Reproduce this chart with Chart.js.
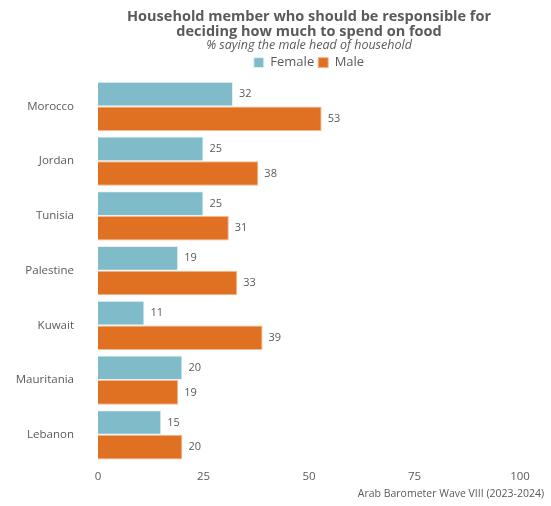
<!DOCTYPE html>
<html>
<head>
<meta charset="utf-8">
<script src="https://cdn.jsdelivr.net/npm/chart.js@4"></script>
<style>
  body { margin: 0; background: #fff; }
  #wrap { width: 551px; height: 506px; }
</style>
</head>
<body>
<div id="wrap"><canvas id="chart"></canvas></div>
<script>
// countries, top to bottom
const countries = ["Morocco", "Jordan", "Tunisia", "Palestine", "Kuwait", "Mauritania", "Lebanon"];
// % saying the male head of household, by respondent gender
const female = [32, 25, 25, 19, 11, 20, 15];
const male = [53, 38, 31, 33, 39, 19, 20];
const xTicks = [0, 25, 50, 75, 100];

const FONT = "'Open Sans', 'Noto Sans', sans-serif";
const GREY = "#5a5a5a";

// value labels to the right of each bar
const barLabels = {
    id: 'barLabels',
    afterDatasetsDraw(chart) {
        const ctx = chart.ctx;
        ctx.save();
        ctx.font = "11px " + FONT;
        ctx.fillStyle = GREY;
        ctx.textBaseline = "middle";
        chart.data.datasets.forEach((ds, i) => {
            chart.getDatasetMeta(i).data.forEach((bar, j) => {
                ctx.fillText(ds.data[j], bar.x + 6, bar.y);
            });
        });
        ctx.restore();
    }
};

// source note, bottom right
const sourceNote = {
    id: 'sourceNote',
    afterDraw(chart) {
        const ctx = chart.ctx;
        ctx.save();
        ctx.font = "10.5px " + FONT;
        ctx.fillStyle = GREY;
        ctx.textAlign = "right";
        ctx.textBaseline = "middle";
        ctx.fillText("Arab Barometer Wave VIII (2023-2024)", chart.width - 7, chart.height - 12);
        ctx.restore();
    }
};

new Chart(document.getElementById("chart"), {
    type: "bar",
    data: {
        labels: countries,
        datasets: [
            { label: "Female", data: female, backgroundColor: "#7fbbc8", borderColor: "#e6f2f4", borderWidth: 1 },
            { label: "Male", data: male, backgroundColor: "#e07022", borderColor: "#f3b98f", borderWidth: 1 }
        ]
    },
    options: {
        indexAxis: "y",
        responsive: true,
        maintainAspectRatio: false,
        animation: false,
        layout: { padding: { left: 0, right: 31, top: 10, bottom: 22 } },
        datasets: { bar: { barPercentage: 1, categoryPercentage: 0.9 } },
        plugins: {
            title: {
                display: true,
                fullSize: false,
                text: ["Household member who should be responsible for", "deciding how much to spend on food"],
                color: GREY,
                font: { family: FONT, size: 14.5, weight: "bold", lineHeight: 1.0 },
                padding: { top: 0, bottom: 0 }
            },
            subtitle: {
                display: true,
                fullSize: false,
                text: "% saying the male head of household",
                color: GREY,
                font: { family: FONT, size: 12.5, style: "italic", lineHeight: 1.05 },
                padding: { top: 0, bottom: 0 }
            },
            legend: {
                fullSize: false,
                labels: {
                    color: GREY,
                    font: { family: FONT, size: 13 },
                    boxWidth: 10,
                    boxHeight: 10,
                    padding: 4
                }
            },
            tooltip: { enabled: false }
        },
        scales: {
            x: {
                min: 0,
                max: 100,
                afterBuildTicks: axis => { axis.ticks = xTicks.map(v => ({ value: v })); },
                grid: { display: false },
                border: { display: false },
                ticks: { color: GREY, font: { family: FONT, size: 11.5 }, padding: 0 }
            },
            y: {
                afterFit: axis => { axis.width = 98; },
                grid: { display: false },
                border: { display: false },
                ticks: { color: GREY, font: { family: FONT, size: 11.5 }, padding: 16 }
            }
        }
    },
    plugins: [barLabels, sourceNote]
});
</script>
</body>
</html>
